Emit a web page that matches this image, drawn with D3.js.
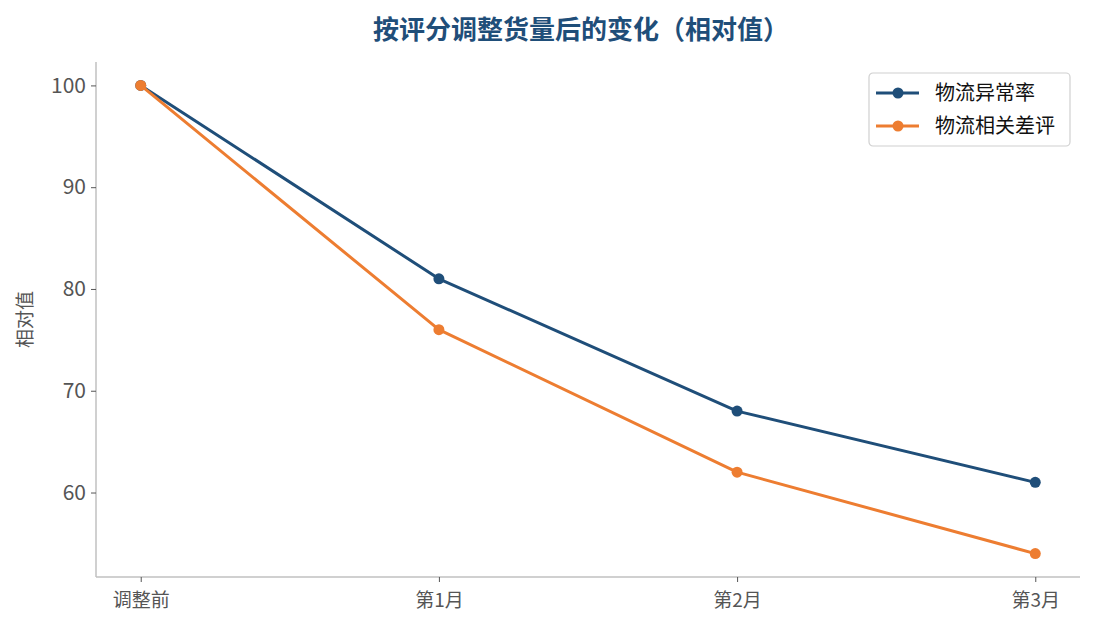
<!DOCTYPE html>
<html>
<head>
<meta charset="utf-8">
<script src="https://cdn.jsdelivr.net/npm/d3@7"></script>
<style>
  body { margin: 0; background: #fff; }
  text { font-family: "Noto Sans CJK SC", "Noto Sans", sans-serif; }
</style>
</head>
<body>
<script>
var categories = ["调整前", "第1月", "第2月", "第3月"];
var seriesNames = ["物流异常率", "物流相关差评"];
var abnormalRate = [100, 81, 68, 61];
var badReviews = [100, 76, 62, 54];
var yTicks = [60, 70, 80, 90, 100];
var colors = ["#1f4e79", "#ed7d31"];

var width = 1095, height = 630;
var plotLeft = 96, plotRight = 1080, plotTop = 62, plotBottom = 577;

var svg = d3.select("body").append("svg")
  .attr("width", width).attr("height", height);

// x: matplotlib style 5% margins on index positions
var x = d3.scaleLinear().domain([-0.15, categories.length - 1 + 0.15]).range([plotLeft, plotRight]);
var allVals = abnormalRate.concat(badReviews);
var yMin = d3.min(allVals), yMax = d3.max(allVals);
var pad = (yMax - yMin) * 0.05;
var y = d3.scaleLinear().domain([yMin - pad, yMax + pad]).range([plotBottom, plotTop]);

// title
svg.append("text")
  .attr("x", 581).attr("y", 39)
  .attr("text-anchor", "middle")
  .attr("font-size", "26px").attr("font-weight", "bold")
  .attr("fill", "#1f4e79")
  .text("按评分调整货量后的变化（相对值）");

// axes
var xAxis = svg.append("g").attr("transform", "translate(0," + plotBottom + ")")
  .call(d3.axisBottom(x).tickValues(d3.range(categories.length))
    .tickFormat(function(d){ return categories[d]; }).tickSize(5).tickPadding(12));
var yAxis = svg.append("g").attr("transform", "translate(" + plotLeft + ",0)")
  .call(d3.axisLeft(y).tickValues(yTicks).tickSize(5).tickPadding(5));

[xAxis, yAxis].forEach(function(g){
  g.select(".domain").attr("stroke", "#c0c0c0").attr("stroke-width", 1.5);
  g.selectAll(".tick line").attr("stroke", "#555").attr("stroke-width", 1);
  g.selectAll(".tick text").attr("fill", "#555").attr("font-size", "19px")
    .style("font-family", "'Noto Sans CJK SC', sans-serif");
});
yAxis.selectAll(".tick text").attr("font-size", "21px");
xAxis.select(".domain").attr("d", "M" + plotLeft + ",0H" + plotRight);
yAxis.select(".domain").attr("d", "M0," + plotBottom + "V" + plotTop);

// y label
svg.append("text")
  .attr("transform", "translate(32," + ((plotTop + plotBottom) / 2) + ") rotate(-90)")
  .attr("text-anchor", "middle")
  .attr("font-size", "19px").attr("fill", "#555")
  .text("相对值");

// lines
var series = [abnormalRate, badReviews];
var line = d3.line().x(function(d, i){ return x(i); }).y(function(d){ return y(d); });

series.forEach(function(s, k){
  svg.append("path").datum(s)
    .attr("d", line).attr("fill", "none")
    .attr("stroke", colors[k]).attr("stroke-width", 3)
    .attr("stroke-linejoin", "round");
  svg.selectAll(".pt" + k).data(s).enter().append("circle")
    .attr("class", "pt" + k)
    .attr("cx", function(d, i){ return x(i); })
    .attr("cy", function(d){ return y(d); })
    .attr("r", 5.5).attr("fill", colors[k]);
});

// legend
var lg = svg.append("g").attr("transform", "translate(869,73)");
lg.append("rect").attr("width", 201).attr("height", 73).attr("rx", 4)
  .attr("fill", "#fff").attr("stroke", "#d0d0d0").attr("stroke-width", 1.2);
seriesNames.forEach(function(n, k){
  var yy = 20 + k * 33;
  lg.append("line").attr("x1", 7).attr("x2", 50).attr("y1", yy).attr("y2", yy)
    .attr("stroke", colors[k]).attr("stroke-width", 3);
  lg.append("circle").attr("cx", 29).attr("cy", yy).attr("r", 5.5).attr("fill", colors[k]);
  lg.append("text").attr("x", 66).attr("y", yy + 7)
    .attr("font-size", "20px").attr("fill", "#111").text(n);
});
</script>
</body>
</html>
